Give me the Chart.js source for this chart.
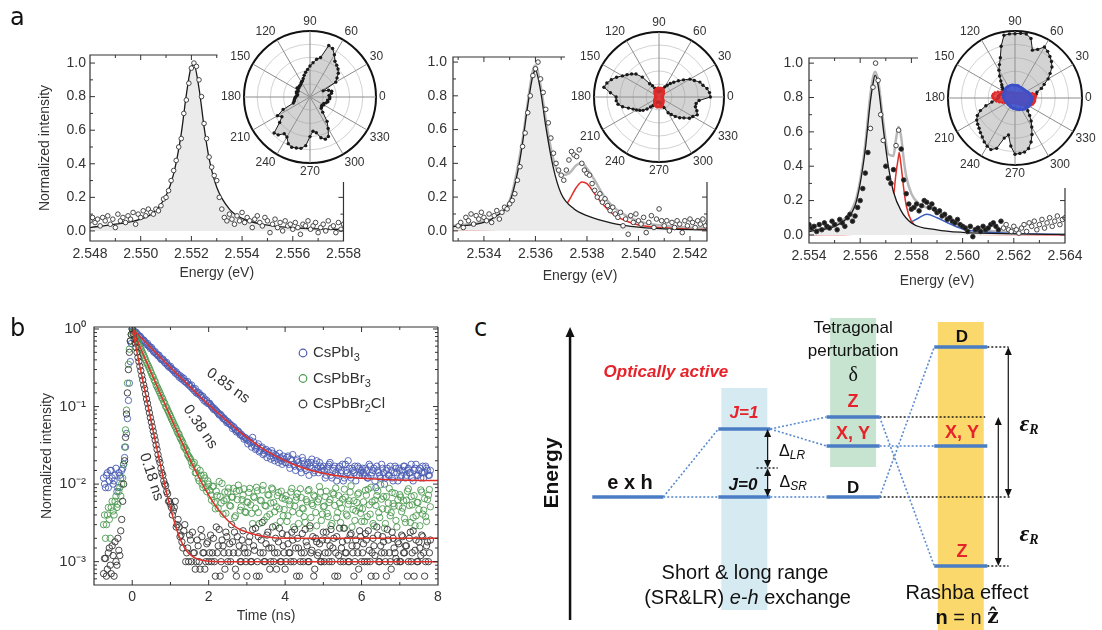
<!DOCTYPE html>
<html>
<head>
<meta charset="utf-8">
<title>Exciton fine structure</title>
<script src="https://cdn.jsdelivr.net/npm/chart.js@4.4.1/dist/chart.umd.min.js"></script>
<style>
  html, body { margin: 0; padding: 0; background: #fff; }
  #page { position: relative; width: 1102px; height: 630px; overflow: hidden; background: #fff; }
  #page canvas { position: absolute; }
  .tag { position: absolute; font: 24px "DejaVu Sans", sans-serif; line-height: 24px; color: #111; }
</style>
</head>
<body>
<div id="page">
  <canvas id="a1" width="366" height="275" style="left:0;top:20px"></canvas>
  <canvas id="a2" width="350" height="275" style="left:380px;top:20px"></canvas>
  <canvas id="a3" width="362" height="280" style="left:740px;top:20px"></canvas>
  <canvas id="p1" width="180" height="177" style="left:218px;top:5px"></canvas>
  <canvas id="p2" width="205" height="177" style="left:563px;top:5px"></canvas>
  <canvas id="p3" width="186" height="183" style="left:916px;top:5px"></canvas>
  <canvas id="b" width="460" height="320" style="left:0;top:310px"></canvas>
  <canvas id="c" width="562" height="330" style="left:540px;top:300px"></canvas>
  <div class="tag" style="left:10px;top:5px">a</div>
  <div class="tag" style="left:10px;top:316px">b</div>
  <div class="tag" style="left:474px;top:316px">c</div>
</div>
<script>
// ---------- panel a : PL spectra of three single nanocrystals ----------
const aStep = 0.0001; // spectrometer energy grid (eV)
const a1Start = 2.548;
const a1Counts = [
  0.06,0.08,0.05,0.07,0.03,0.08,0.06,0.09,0.04,0.07,
  0.02,0.10,0.06,0.08,0.05,0.09,0.07,0.11,0.04,0.10,
  0.08,0.12,0.09,0.13,0.11,0.10,0.13,0.12,0.15,0.19,
  0.20,0.24,0.30,0.36,0.42,0.50,0.55,0.70,0.78,0.88,
  0.97,1.00,0.98,0.90,0.80,0.64,0.55,0.44,0.38,0.33,
  0.30,0.20,0.13,0.08,0.06,0.10,0.07,0.04,0.09,0.06,
  0.11,0.05,0.08,0.06,0.02,0.07,0.09,0.05,0.03,0.08,
  0.06,-0.01,0.04,0.07,0.02,0.05,0.00,0.06,0.03,0.04,
  0.01,0.05,0.02,-0.02,0.04,0.03,0.06,0.01,0.03,0.05,
  -0.01,0.02,0.04,0.00,0.06,0.02,0.03,-0.01,0.05,0.01,
  0.04
];
const a1FitE = [2.548,2.549,2.550,2.5505,2.551,2.5513,2.5516,2.5518,2.552,2.5521,2.5523,2.5525,2.5527,2.553,2.5535,2.554,2.555,2.556,2.557,2.558];
const a1FitI = [0.02,0.04,0.07,0.11,0.21,0.34,0.58,0.81,0.98,0.99,0.85,0.62,0.43,0.26,0.13,0.075,0.034,0.019,0.012,0.009];

const a2Start = 2.5330;
const a2Counts = [
  0.03,0.05,0.02,0.08,0.06,0.10,0.04,0.09,0.07,0.11,
  0.08,0.06,0.10,0.05,0.09,0.12,0.07,0.11,0.14,0.13,
  0.16,0.18,0.22,0.30,0.38,0.50,0.58,0.70,0.80,0.92,
  0.96,1.00,0.90,0.82,0.72,0.64,0.55,0.46,0.40,0.36,
  0.33,0.30,0.36,0.42,0.47,0.45,0.44,0.48,0.40,0.36,
  0.34,0.33,0.28,0.24,0.20,0.22,0.17,0.19,0.15,0.12,
  0.14,0.10,0.08,0.11,0.03,0.07,-0.02,0.09,0.05,0.10,
  0.06,0.04,0.08,-0.01,0.05,0.09,0.02,0.07,0.13,0.06,
  0.03,0.06,0.00,0.05,0.02,0.06,0.04,-0.01,0.06,0.03,
  0.07,0.05,0.02,0.06,0.04,0.07,0.03,0.05
];
const a2MainE = [2.5328,2.534,2.5345,2.535,2.5353,2.5355,2.5357,2.5359,2.5360,2.5362,2.5364,2.5367,2.537,2.5375,2.538,2.539,2.540,2.541,2.5427];
const a2MainI = [0.025,0.05,0.09,0.17,0.34,0.52,0.74,0.92,0.95,0.83,0.62,0.37,0.22,0.13,0.09,0.045,0.022,0.012,0.006];
const a2SideE = [2.5328,2.534,2.535,2.5355,2.536,2.5365,2.537,2.5373,2.5376,2.5378,2.538,2.5383,2.5386,2.539,2.5395,2.540,2.541,2.542,2.5427];
const a2SideI = [0.005,0.007,0.012,0.018,0.028,0.05,0.11,0.18,0.26,0.29,0.28,0.22,0.16,0.10,0.06,0.035,0.018,0.01,0.008];
const a2SumE = [2.5328,2.534,2.535,2.5355,2.5357,2.5359,2.536,2.5362,2.5364,2.5367,2.537,2.5373,2.5376,2.5378,2.538,2.5383,2.5386,2.539,2.540,2.541,2.5427];
const a2SumI = [0.03,0.057,0.18,0.54,0.76,0.95,0.98,0.86,0.66,0.42,0.33,0.34,0.39,0.40,0.37,0.30,0.22,0.145,0.057,0.03,0.014];

const a3Start = 2.554;
const a3Counts = [
  0.06,0.04,0.05,0.02,0.06,0.03,0.07,0.05,0.04,0.08,
  0.06,0.03,0.09,0.07,0.05,0.10,0.12,0.08,0.11,0.16,
  0.20,0.27,0.36,0.48,0.62,0.86,1.00,0.90,0.70,0.55,
  0.40,0.33,0.30,0.38,0.52,0.61,0.50,0.32,0.24,0.18,
  0.15,0.16,0.18,0.14,0.17,0.20,0.19,0.16,0.18,0.15,
  0.13,0.14,0.11,0.12,0.09,0.10,0.08,0.07,0.09,0.06,
  0.05,0.04,0.02,0.05,-0.01,0.03,0.04,0.02,0.05,0.03,
  0.04,0.06,0.07,0.05,0.03,0.08,0.04,0.06,0.03,0.02,
  0.05,0.03,0.01,0.04,0.06,0.02,0.07,0.05,0.08,0.03,
  0.06,0.09,0.04,0.07,0.10,0.05,0.08,0.11,0.06,0.09,0.10
];
const a3MainE = [2.554,2.555,2.5555,2.5558,2.556,2.5562,2.5564,2.5565,2.55658,2.5567,2.5569,2.5571,2.5573,2.5576,2.558,2.559,2.560,2.562,2.564];
const a3MainI = [0.02,0.05,0.10,0.17,0.30,0.50,0.78,0.88,0.93,0.87,0.62,0.40,0.25,0.14,0.07,0.03,0.015,0.006,0.003];
const a3RedE = [2.554,2.556,2.5567,2.5570,2.5572,2.5573,2.5574,2.5575,2.55752,2.5576,2.5577,2.5578,2.5580,2.5583,2.559,2.560,2.562,2.564];
const a3RedI = [0.002,0.006,0.02,0.05,0.12,0.22,0.36,0.46,0.48,0.40,0.27,0.17,0.08,0.04,0.012,0.005,0.002,0.001];
const a3BlueE = [2.554,2.556,2.557,2.5578,2.5583,2.5586,2.559,2.5595,2.560,2.561,2.562,2.564];
const a3BlueI = [0.003,0.01,0.03,0.06,0.10,0.12,0.10,0.065,0.035,0.015,0.008,0.003];
const a3SumE = [2.554,2.555,2.5558,2.556,2.5562,2.5564,2.55658,2.5567,2.5569,2.5571,2.5573,2.5574,2.5575,2.5576,2.5577,2.5578,2.558,2.5583,2.5586,2.559,2.5595,2.560,2.561,2.562];
const a3SumI = [0.025,0.06,0.19,0.32,0.53,0.82,0.95,0.90,0.66,0.47,0.46,0.56,0.63,0.57,0.44,0.34,0.24,0.18,0.16,0.14,0.09,0.055,0.025,0.015];

// polarisation insets: normalised intensity vs analyser angle (deg)
const polarAngles = [0,5,10,15,20,25,30,35,40,45,50,55,60,65,70,75,80,85,
  90,95,100,105,110,115,120,125,130,135,140,145,150,155,160,165,170,175,
  180,185,190,195,200,205,210,215,220,225,230,235,240,245,250,255,260,265,
  270,275,280,285,290,295,300,305,310,315,320,325,330,335,340,345,350,355];
const p1Gray = [0.30,0.29,0.33,0.34,0.30,0.22,0.45,0.50,0.56,0.60,0.63,0.66,0.74,0.81,0.83,0.62,0.58,0.52,
  0.47,0.42,0.38,0.34,0.30,0.27,0.26,0.24,0.23,0.23,0.22,0.24,0.21,0.20,0.22,0.21,0.19,0.20,
  0.22,0.23,0.24,0.25,0.27,0.45,0.57,0.52,0.60,0.77,0.75,0.68,0.70,0.78,0.81,0.80,0.79,0.74,
  0.60,0.52,0.55,0.64,0.68,0.66,0.55,0.45,0.30,0.24,0.23,0.22,0.24,0.23,0.26,0.28,0.27,0.30];
const p2Gray = [0.79,0.78,0.75,0.70,0.67,0.60,0.55,0.46,0.39,0.32,0.27,0.22,0.18,0.14,0.12,0.10,0.09,0.08,
  0.08,0.08,0.09,0.10,0.12,0.15,0.20,0.25,0.40,0.50,0.55,0.60,0.65,0.72,0.78,0.83,0.86,0.75,
  0.66,0.66,0.64,0.58,0.50,0.44,0.40,0.36,0.32,0.26,0.20,0.16,0.13,0.11,0.09,0.08,0.08,0.08,
  0.08,0.08,0.09,0.10,0.13,0.18,0.28,0.33,0.39,0.45,0.50,0.57,0.60,0.65,0.62,0.58,0.58,0.62];
const p2Red = [0.05,0.05,0.05,0.06,0.06,0.07,0.07,0.08,0.09,0.10,0.11,0.12,0.13,0.13,0.14,0.14,0.14,0.13,
  0.13,0.14,0.14,0.13,0.13,0.12,0.12,0.11,0.10,0.09,0.08,0.07,0.07,0.06,0.06,0.05,0.05,0.05,
  0.05,0.05,0.05,0.06,0.06,0.07,0.07,0.08,0.09,0.10,0.11,0.12,0.13,0.14,0.15,0.15,0.16,0.15,
  0.15,0.15,0.16,0.15,0.14,0.13,0.12,0.11,0.10,0.09,0.08,0.07,0.07,0.06,0.06,0.05,0.05,0.05];
const p3Gray = [0.28,0.30,0.32,0.34,0.42,0.48,0.57,0.64,0.72,0.77,0.81,0.85,0.88,0.80,0.76,0.92,0.97,0.97,
  0.96,0.96,0.95,0.80,0.64,0.55,0.48,0.40,0.33,0.28,0.25,0.22,0.20,0.20,0.21,0.22,0.24,0.25,
  0.25,0.28,0.35,0.45,0.55,0.62,0.66,0.68,0.70,0.73,0.76,0.80,0.83,0.85,0.80,0.62,0.56,0.72,
  0.84,0.83,0.82,0.78,0.70,0.60,0.50,0.42,0.34,0.27,0.22,0.20,0.20,0.21,0.22,0.24,0.25,0.26];
const p3Red = [0.30,0.31,0.30,0.27,0.22,0.18,0.15,0.13,0.11,0.10,0.09,0.08,0.08,0.08,0.07,0.07,0.07,0.07,
  0.07,0.07,0.07,0.08,0.08,0.08,0.09,0.10,0.11,0.12,0.14,0.16,0.18,0.22,0.27,0.31,0.33,0.34,
  0.33,0.31,0.28,0.24,0.20,0.17,0.14,0.12,0.11,0.10,0.09,0.08,0.08,0.08,0.07,0.07,0.07,0.07,
  0.07,0.07,0.08,0.08,0.08,0.09,0.10,0.11,0.12,0.14,0.16,0.19,0.23,0.26,0.28,0.29,0.30,0.30];
const p3Blue = [0.25,0.25,0.24,0.23,0.22,0.21,0.20,0.19,0.19,0.18,0.18,0.18,0.18,0.18,0.18,0.19,0.19,0.19,
  0.19,0.19,0.20,0.20,0.20,0.20,0.20,0.20,0.20,0.20,0.19,0.19,0.19,0.18,0.18,0.18,0.17,0.17,
  0.17,0.16,0.16,0.15,0.15,0.14,0.14,0.14,0.14,0.14,0.14,0.14,0.14,0.15,0.15,0.15,0.16,0.16,
  0.16,0.17,0.17,0.18,0.19,0.19,0.20,0.21,0.22,0.22,0.23,0.24,0.24,0.25,0.25,0.25,0.25,0.25];

// ---------- panel b : PL decay traces ----------
// two interleaved read-outs: bins at -0.75 + k*0.05 and at -0.725 + k*0.05 (ns)
const bStart = -0.75, bStartMid = -0.725, bStep = 0.05;
const bCsPbI3 = [
  0.012,0.009,0.014,0.011,0.015,0.010,0.013,0.008,0.014,0.012,0.016,0.022,0.045,0.12,0.38,1.0,
  0.93,0.91,0.84,0.81,0.74,0.72,0.66,0.65,0.59,0.58,0.52,0.51,0.47,0.46,0.41,0.41,0.37,0.37,0.33,0.33,
  0.30,0.29,0.28,0.26,0.25,0.24,0.23,0.21,0.21,0.19,0.19,0.17,0.17,0.155,0.15,0.14,0.135,0.125,0.12,0.11,
  0.105,0.098,0.094,0.088,0.082,0.080,0.074,0.071,0.066,0.064,0.060,0.057,0.055,0.050,0.049,0.046,0.044,0.041,0.040,0.037,
  0.036,0.034,0.040,0.031,0.029,0.033,0.027,0.030,0.025,0.028,0.026,0.023,0.027,0.022,0.024,0.021,0.025,0.020,0.023,0.019,
  0.022,0.018,0.021,0.024,0.017,0.020,0.019,0.016,0.022,0.018,0.015,0.019,0.017,0.021,0.014,0.018,0.016,0.019,0.015,0.017,
  0.012,0.016,0.018,0.013,0.015,0.017,0.011,0.016,0.014,0.018,0.012,0.015,0.020,0.013,0.016,0.014,0.011,0.017,0.013,0.015,
  0.014,0.016,0.012,0.018,0.013,0.015,0.011,0.017,0.014,0.012,0.016,0.010,0.015,0.013,0.017,0.012,0.014,0.016,0.011,0.015,
  0.013,0.017,0.012,0.015,0.014,0.018,0.011,0.016,0.013,0.015,0.012,0.017,0.014,0.016,0.013,0.015
];
const bCsPbI3Mid = [
  0.010,0.013,0.009,0.015,0.012,0.011,0.016,0.009,0.013,0.015,0.018,0.03,0.07,0.2,0.65,
  0.96,0.90,0.87,0.80,0.78,0.71,0.69,0.63,0.61,0.56,0.55,0.50,0.48,0.45,0.43,0.40,0.39,0.36,0.34,0.32,
  0.31,0.29,0.27,0.26,0.24,0.23,0.22,0.21,0.20,0.19,0.18,0.17,0.16,0.15,0.145,0.14,0.13,0.12,0.115,0.11,
  0.11,0.10,0.092,0.090,0.085,0.078,0.077,0.070,0.068,0.062,0.061,0.058,0.052,0.053,0.047,0.048,0.043,0.042,0.038,0.039,
  0.033,0.037,0.030,0.035,0.028,0.031,0.026,0.029,0.024,0.027,0.022,0.026,0.021,0.025,0.020,0.023,0.019,0.022,0.018,0.021,
  0.019,0.023,0.016,0.020,0.018,0.015,0.021,0.017,0.014,0.020,0.016,0.018,0.013,0.019,0.016,0.015,0.020,0.014,0.017,0.016,
  0.015,0.013,0.017,0.019,0.012,0.016,0.014,0.013,0.017,0.015,0.011,0.018,0.014,0.016,0.012,0.015,0.017,0.013,0.016,0.014,
  0.016,0.013,0.015,0.012,0.017,0.014,0.016,0.009,0.015,0.013,0.018,0.014,0.012,0.016,0.013,0.015,0.011,0.017,0.014,0.016,
  0.012,0.015,0.017,0.013,0.016,0.014,0.012,0.015,0.018,0.013,0.016,0.014,0.012,0.017,0.015,0.013
];
const bCsPbBr3 = [
  0.003,0.002,0.004,0.0035,0.005,0.0045,0.006,0.005,0.008,0.007,0.012,0.03,0.09,0.35,0.7,1.0,
  0.86,0.76,0.68,0.58,0.52,0.46,0.40,0.35,0.31,0.27,0.24,0.21,0.18,0.16,0.14,0.125,0.11,0.097,0.085,0.075,
  0.066,0.058,0.052,0.045,0.040,0.036,0.030,0.028,0.024,0.022,0.019,0.018,0.014,0.016,0.011,0.013,0.009,0.012,0.008,0.010,
  0.0072,0.0093,0.0058,0.0081,0.0049,0.0069,0.0102,0.0061,0.0042,0.0079,0.0053,0.0068,0.0088,0.0039,0.0063,0.0083,0.0051,0.0072,0.0044,0.0059,
  0.0078,0.0054,0.0031,0.0067,0.0091,0.0043,0.0062,0.0084,0.0034,0.0052,0.0073,0.0041,0.0089,0.0058,0.0029,0.0071,0.0048,0.0081,0.0039,0.0064,
  0.0033,0.0061,0.0079,0.0044,0.0052,0.0068,0.0031,0.0087,0.0049,0.0038,0.0063,0.0082,0.0027,0.0056,0.0072,0.0043,0.0059,0.0093,0.0034,0.0051,
  0.0069,0.0042,0.0058,0.0029,0.0077,0.0053,0.0037,0.0071,0.0032,0.0064,0.0086,0.0041,0.0055,0.0079,0.0028,0.0061,0.0045,0.0074,0.0049,0.0033,
  0.0059,0.0083,0.0038,0.0054,0.0091,0.0031,0.0062,0.0071,0.0043,0.0098,0.0048,0.0027,0.0069,0.0057,0.0039,0.0078,0.0052,0.0034,0.0063,0.0073,
  0.0044,0.0061,0.0032,0.0081,0.0053,0.0069,0.0037,0.0029,0.0058,0.0047,0.0084,0.0041,0.0065,0.0033,0.0072,0.0051
];
const bCsPbBr3Mid = [
  0.004,0.003,0.005,0.002,0.006,0.004,0.007,0.0055,0.009,0.010,0.018,0.05,0.2,0.55,0.85,
  0.93,0.82,0.71,0.63,0.55,0.49,0.43,0.37,0.33,0.29,0.25,0.22,0.19,0.17,0.15,0.13,0.115,0.10,0.09,0.08,
  0.07,0.062,0.055,0.048,0.044,0.038,0.034,0.030,0.027,0.023,0.021,0.017,0.019,0.014,0.012,0.015,0.010,0.013,0.009,0.011,
  0.0083,0.0062,0.0094,0.0048,0.0071,0.0108,0.0057,0.0041,0.0079,0.0064,0.0089,0.0052,0.0068,0.0037,0.0081,0.0097,0.0046,0.0063,0.0087,0.0043,
  0.0058,0.0088,0.0042,0.0069,0.0049,0.0082,0.0031,0.0061,0.0096,0.0053,0.0038,0.0072,0.0057,0.0086,0.0044,0.0051,0.0078,0.0033,0.0066,0.0047,
  0.0071,0.0039,0.0054,0.0088,0.0028,0.0062,0.0076,0.0042,0.0067,0.0048,0.0032,0.0059,0.0085,0.0037,0.0053,0.0069,0.0029,0.0064,0.0079,0.0041,
  0.0052,0.0081,0.0038,0.0063,0.0031,0.0074,0.0089,0.0043,0.0057,0.0049,0.0027,0.0068,0.0039,0.0061,0.0095,0.0047,0.0034,0.0058,0.0077,0.0042,
  0.0048,0.0033,0.0072,0.0086,0.0041,0.0059,0.0029,0.0053,0.0081,0.0037,0.0064,0.0069,0.0031,0.0047,0.0088,0.0043,0.0056,0.0076,0.0028,0.0052,
  0.0068,0.0049,0.0036,0.0062,0.0087,0.0032,0.0054,0.0071,0.0039,0.0058,0.0029,0.0079,0.0046,0.0038,0.0063,0.0085
];
const bCsPbBr2Cl = [
  0.0007,0.0011,0.0008,0.0015,0.0007,0.0012,0.0018,0.0009,0.0014,0.0025,0.006,0.02,0.08,0.3,0.7,1.0,
  0.74,0.58,0.43,0.33,0.25,0.19,0.145,0.11,0.083,0.063,0.048,0.037,0.028,0.021,0.016,0.013,0.010,0.008,0.006,0.0055,
  0.004,0.005,0.0028,0.0035,0.0021,0.0018,0.0025,0.0010,0.0015,0.0022,0.0010,0.0013,0.0008,0.0019,0.0010,0.0026,0.0013,0.0008,0.0017,0.0010,
  0.0022,0.0013,0.0010,0.0028,0.0016,0.00065,0.0019,0.0013,0.0024,0.0010,0.0017,0.0030,0.0013,0.0008,0.0021,0.0016,0.0010,0.0025,0.0013,0.00065,
  0.0018,0.0010,0.0026,0.0014,0.00065,0.0021,0.0013,0.0032,0.0010,0.0017,0.0024,0.0008,0.0015,0.0010,0.0020,0.0013,0.0027,0.0010,0.0016,0.0008,
  0.0022,0.0013,0.0010,0.0019,0.0026,0.00065,0.0015,0.0010,0.0023,0.0013,0.0018,0.0010,0.0029,0.0014,0.00065,0.0020,0.0012,0.0017,0.0010,0.0024,
  0.0013,0.0019,0.0010,0.0026,0.0015,0.00065,0.0021,0.0012,0.0010,0.0018,0.0027,0.0013,0.0010,0.0022,0.0016,0.00065,0.0019,0.0013,0.0025,0.0010,
  0.0017,0.0023,0.0010,0.0014,0.00065,0.0020,0.0012,0.0028,0.0010,0.0016,0.0021,0.0013,0.00065,0.0019,0.0010,0.0024,0.0015,0.0011,0.0018,0.0010,
  0.0022,0.0013,0.0016,0.00065,0.0020,0.0010,0.0025,0.0014,0.0010,0.0018,0.0012,0.0021,0.00065,0.0016,0.0010,0.0019
];
const bCsPbBr2ClMid = [
  0.0011,0.00065,0.0013,0.0009,0.0016,0.00065,0.0010,0.0020,0.0012,0.0035,0.01,0.04,0.15,0.5,0.85,
  0.86,0.66,0.50,0.38,0.29,0.22,0.17,0.125,0.095,0.072,0.055,0.042,0.032,0.024,0.019,0.014,0.011,0.0095,0.0075,0.006,
  0.005,0.0045,0.006,0.003,0.0028,0.0022,0.0015,0.0030,0.0013,0.0010,0.0019,0.0024,0.0013,0.0010,0.0016,0.0008,0.0021,0.0013,0.0010,0.0018,
  0.0013,0.0010,0.0020,0.00065,0.0013,0.0026,0.0010,0.0016,0.0008,0.0021,0.0013,0.0010,0.0018,0.0024,0.00065,0.0013,0.0010,0.0019,0.0015,0.0010,
  0.0013,0.0021,0.0010,0.0016,0.0027,0.0010,0.00065,0.0019,0.0013,0.0010,0.0022,0.0015,0.0010,0.0028,0.0013,0.0008,0.0018,0.0010,0.0023,0.0013,
  0.0010,0.0017,0.0013,0.0024,0.0010,0.0015,0.0020,0.00065,0.0013,0.0010,0.0026,0.0016,0.0010,0.0013,0.0021,0.0008,0.0018,0.0013,0.0010,0.0019,
  0.0010,0.0024,0.0013,0.0016,0.0010,0.0020,0.0013,0.00065,0.0027,0.0015,0.0010,0.0013,0.0019,0.0010,0.0023,0.0013,0.0010,0.0016,0.0008,0.0021,
  0.0013,0.0010,0.0019,0.0025,0.0010,0.0013,0.0016,0.00065,0.0022,0.0010,0.0013,0.0018,0.0010,0.0026,0.0013,0.0008,0.0020,0.0013,0.0010,0.0017,
  0.0010,0.0021,0.0013,0.0016,0.0010,0.0024,0.0013,0.00065,0.0019,0.0010,0.0015,0.0022,0.0013,0.0010,0.0018,0.0013
];
const fitT = [0,0.1,0.2,0.3,0.4,0.5,0.6,0.7,0.8,0.9,1.0,1.2,1.4,1.6,1.8,2.0,2.25,2.5,2.75,3,3.5,4,4.5,5,5.5,6,7,8];
const fitCsPbI3 = [1.011,0.900,0.801,0.714,0.636,0.566,0.505,0.450,0.401,0.358,0.319,0.255,0.204,0.163,0.131,0.106,0.082,0.064,0.050,0.040,0.027,0.020,0.016,0.0138,0.0125,0.0119,0.0113,0.0111];
const fitCsPbBr3 = [1.0,0.771,0.593,0.456,0.351,0.270,0.208,0.160,0.124,0.096,0.074,0.0445,0.0272,0.0168,0.0108,0.0072,0.0047,0.0034,0.0027,0.0024,0.0021,0.0020,0.0020,0.0020,0.0020,0.0020,0.0020,0.0020];
const fitCsPbBr2Cl = [1.0,0.575,0.330,0.190,0.109,0.0632,0.0367,0.0215,0.0127,0.0077,0.0049,0.0023,0.00142,0.00114,0.00105,0.00101,0.001,0.001,0.001,0.001,0.001,0.001,0.001,0.001,0.001,0.001,0.001,0.001];
const bNotes = [
  {t: '0.85 ns', x: 2.51, y: 0.185, rot: 36},
  {t: '0.38 ns', x: 1.78, y: 0.0546, rot: 56},
  {t: '0.18 ns', x: 0.50, y: 0.0124, rot: 72}
];

// ---------- panel c : level scheme (energies in arbitrary units) ----------
const colX = [-0.02, 1.03, 2.01, 2.98]; // e x h | exchange | tetragonal | Rashba
const levelName = ['exh', 'J0', 'J1', 'Zt', 'XYt', 'Dt', 'DR', 'XYR', 'ZR'];
const levelCol = [0, 1, 1, 2, 2, 2, 3, 3, 3];
const levelE = [0, 0, 6.8, 8.0, 5.1, 0, 15.0, 5.1, -6.9];
const links = [['exh','J1'], ['exh','J0'], ['J1','Zt'], ['J1','XYt'], ['J0','Dt'], ['Zt','ZR'], ['Dt','DR'], ['XYt','XYR']];
const guides = [['Zt', 3.20], ['Dt', 3.42], ['DR', 3.41], ['ZR', 3.41]];
const midGuide = {from: 1.14, to: 1.33, e: 2.9};
const bandCol = [1, 2, 3];
const bandTop = [10.9, 17.9, 17.5];
const bandBottom = [-11.3, 3.0, -13.3];
const arrowX = [1.24, 1.24, 3.408, 3.318];
const arrowFrom = [6.8, 2.9, 15.0, 8.0];
const arrowTo = [2.9, 0, 0, -6.9];
const energyAxis = {x: -0.54, from: -12.3, to: 17.0};

// ---------- helpers ----------
const FONT = '"Liberation Sans", Arial, Helvetica, sans-serif';
const SERIF = '"Liberation Serif", "DejaVu Serif", serif';
Chart.defaults.font.family = FONT;
Chart.defaults.color = '#333';

const onGrid = (start, step, vals) => vals.map((v, i) => ({x: +(start + i * step).toFixed(5), y: v}));
const xy = (xs, ys) => xs.map((x, i) => ({x: x, y: ys[i]}));
const base = {responsive: false, animation: false, devicePixelRatio: 1, events: []};
const quiet = {legend: {display: false}, tooltip: {enabled: false}};
const noGrid = {display: false, drawTicks: false};

const R = (t, f, c, dy) => ({t: t, f: f + ' ' + FONT, c: c, dy: dy});
const RS = (t, f, c, dy) => ({t: t, f: f + ' ' + SERIF, c: c, dy: dy});
function drawRuns(ctx, runs, x, y, align) {
  let w = 0;
  runs.forEach(r => { ctx.font = r.f; w += ctx.measureText(r.t).width; });
  let px = align === 'left' ? x : x - w / 2;
  ctx.textAlign = 'left';
  ctx.textBaseline = 'middle';
  runs.forEach(r => {
    ctx.font = r.f;
    ctx.fillStyle = r.c || '#111';
    ctx.fillText(r.t, px, y + (r.dy || 0));
    px += ctx.measureText(r.t).width;
  });
}

// box frame with inward ticks; the inset polar plot interrupts top/right edges
const frame = {
  id: 'frame',
  afterDatasetsDraw(chart, args, opts) {
    const {ctx, chartArea: a} = chart;
    const xs = chart.scales.x, ys = chart.scales.y;
    const topEnd = a.right - (opts.cutTop || 0);
    const rightStart = a.top + (opts.cutRight || 0);
    ctx.save();
    ctx.strokeStyle = '#333';
    ctx.lineWidth = 1.2;
    ctx.beginPath();
    ctx.moveTo(topEnd, a.top);
    ctx.lineTo(a.left, a.top);
    ctx.lineTo(a.left, a.bottom);
    ctx.lineTo(a.right, a.bottom);
    ctx.lineTo(a.right, rightStart);
    ctx.stroke();
    ctx.lineWidth = 1;
    ctx.beginPath();
    xs.ticks.forEach(t => {
      const px = xs.getPixelForValue(t.value);
      if (px < a.left + 1 || px > a.right - 1) return;
      const len = t.label !== '' ? 5 : 3;
      ctx.moveTo(px, a.bottom); ctx.lineTo(px, a.bottom - len);
      if (px <= topEnd) { ctx.moveTo(px, a.top); ctx.lineTo(px, a.top + len); }
    });
    ys.ticks.forEach(t => {
      const py = ys.getPixelForValue(t.value);
      if (py < a.top + 1 || py > a.bottom - 1) return;
      const len = t.label !== '' ? 5 : 3;
      ctx.moveTo(a.left, py); ctx.lineTo(a.left + len, py);
      if (py >= rightStart) { ctx.moveTo(a.right, py); ctx.lineTo(a.right - len, py); }
    });
    ctx.stroke();
    ctx.restore();
  }
};

function spectrumScales(o) {
  return {
    x: {type: 'linear', min: o.xmin, max: o.xmax, grid: noGrid, border: {display: false},
        ticks: {stepSize: 0.001, includeBounds: false, autoSkip: false, maxRotation: 0, maxTicksLimit: 40, padding: 5,
                color: '#333', font: {size: 14},
                callback: v => { const k = Math.round(v * 1000); return k % 2 ? '' : (k / 1000).toFixed(3); }},
        title: {display: true, text: 'Energy (eV)', color: '#333', font: {size: 14}},
        afterFit: s => { s.height = o.xh; }},
    y: {type: 'linear', min: o.ymin, max: o.ymax, grid: noGrid, border: {display: false},
        ticks: {stepSize: 0.1, includeBounds: false, autoSkip: false, maxTicksLimit: 40, padding: o.ypad,
                color: '#333', font: {size: 14},
                callback: v => { const k = Math.round(v * 10); return k % 2 ? '' : (k / 10).toFixed(1); }},
        title: {display: !!o.ytitle, text: 'Normalized intensity', color: '#333', font: {size: 14}},
        afterFit: s => { s.width = o.yw; }}
  };
}
const curve = (data, color, width, extra) => Object.assign({data: data, showLine: true, borderColor: color, borderWidth: width,
  pointRadius: 0, cubicInterpolationMode: 'monotone', fill: false}, extra || {});
const dots = (data, extra) => Object.assign({data: data, showLine: false, pointRadius: 2.3, pointBorderWidth: 0.9,
  pointBorderColor: '#333', pointBackgroundColor: '#fff'}, extra || {});
const SHADE = '#ebebeb';
const FIT_RED = '#e0302a';
const FIT_BLUE = '#3d5fc0';
const SUM_GRAY = '#b8b8b8';

new Chart(document.getElementById('a1'), {
  type: 'scatter',
  data: {datasets: [
    dots(onGrid(a1Start, aStep, a1Counts)),
    curve(xy(a1FitE, a1FitI), '#1a1a1a', 1.3, {fill: 'origin', backgroundColor: SHADE})
  ]},
  options: Object.assign({}, base, {
    layout: {padding: {left: 33, top: 35, right: 20, bottom: 9}},
    plugins: Object.assign({}, quiet, {frame: {cutTop: 126, cutRight: 127}}),
    scales: spectrumScales({xmin: 2.548, xmax: 2.558, ymin: -0.06, ymax: 1.048, xh: 45, yw: 57, ypad: 4, ytitle: true})
  }),
  plugins: [frame]
});

new Chart(document.getElementById('a2'), {
  type: 'scatter',
  data: {datasets: [
    dots(onGrid(a2Start, aStep, a2Counts)),
    curve(xy(a2MainE, a2MainI), '#1a1a1a', 1.3, {fill: 'origin', backgroundColor: SHADE}),
    curve(xy(a2SideE, a2SideI), FIT_RED, 1.5),
    curve(xy(a2SumE, a2SumI), SUM_GRAY, 2.5)
  ]},
  options: Object.assign({}, base, {
    layout: {padding: {left: 20, top: 37, right: 23, bottom: 6}},
    plugins: Object.assign({}, quiet, {frame: {cutTop: 142, cutRight: 125}}),
    scales: spectrumScales({xmin: 2.5328, xmax: 2.54266, ymin: -0.06, ymax: 1.03, xh: 48, yw: 53, ypad: 6, ytitle: false})
  }),
  plugins: [frame]
});

new Chart(document.getElementById('a3'), {
  type: 'scatter',
  data: {datasets: [
    dots(onGrid(a3Start, aStep, a3Counts), {
      pointBackgroundColor: c => (c.raw && (c.raw.x > 2.5615 || c.raw.y > 0.5)) ? '#fff' : '#1a1a1a'
    }),
    curve(xy(a3MainE, a3MainI), '#1a1a1a', 1.3, {fill: 'origin', backgroundColor: SHADE}),
    curve(xy(a3RedE, a3RedI), FIT_RED, 1.5),
    curve(xy(a3BlueE, a3BlueI), FIT_BLUE, 1.5),
    curve(xy(a3SumE, a3SumI), SUM_GRAY, 2.5)
  ]},
  options: Object.assign({}, base, {
    layout: {padding: {left: 20, top: 38, right: 37, bottom: 6}},
    plugins: Object.assign({}, quiet, {frame: {cutTop: 147, cutRight: 130}}),
    scales: spectrumScales({xmin: 2.554, xmax: 2.564, ymin: -0.047, ymax: 1.03, xh: 51, yw: 49, ypad: 6, ytitle: false})
  }),
  plugins: [frame]
});

// ---------- polar insets (radar charts, clockwise from 90 deg) ----------
const radarAngles = polarAngles.map((_, k) => polarAngles[(18 - k + 72) % 72]);
const toRadar = r => radarAngles.map(a => r[polarAngles.indexOf(a)]);
const polarLabels = {
  id: 'polarLabels',
  afterDraw(chart) {
    const s = chart.scales.r, ctx = chart.ctx;
    ctx.save();
    ctx.font = '12px ' + FONT;
    ctx.fillStyle = '#333';
    chart.data.labels.forEach((ang, i) => {
      if (ang % 30) return;
      const p = s.getPointPosition(i, s.drawingArea + 3);
      const dx = p.x - s.xCenter, dy = p.y - s.yCenter;
      ctx.textAlign = Math.abs(dx) < 5 ? 'center' : (dx > 0 ? 'left' : 'right');
      ctx.textBaseline = Math.abs(dy) < 5 ? 'middle' : (dy > 0 ? 'top' : 'bottom');
      ctx.fillText(String(ang), p.x, p.y);
    });
    ctx.restore();
  }
};
function polar(id, pad, sets) {
  return new Chart(document.getElementById(id), {
    type: 'radar',
    data: {labels: radarAngles, datasets: sets.map(s => ({
      data: toRadar(s.r), borderColor: s.line, backgroundColor: s.fill, borderWidth: 1, fill: true,
      pointRadius: s.pr, pointBackgroundColor: s.line, pointBorderWidth: 0
    }))},
    options: Object.assign({}, base, {
      layout: {padding: pad},
      plugins: quiet,
      elements: {line: {tension: 0}},
      scales: {r: {min: 0, max: 1, startAngle: 0,
        ticks: {display: false, stepSize: 0.2},
        pointLabels: {display: false},
        grid: {circular: true,
               color: c => (c.tick && c.tick.value > 0.99) ? '#111' : '#c6c6c6',
               lineWidth: c => (c.tick && c.tick.value > 0.99) ? 2 : 0.8},
        angleLines: {color: c => Number(c.label) % 30 === 0 ? '#8c8c8c' : 'rgba(0,0,0,0)', lineWidth: 1}
      }}
    }),
    plugins: [polarLabels]
  });
}
const GRAY_SET = {line: '#1a1a1a', fill: 'rgba(150,150,150,0.42)', pr: 1.7};
polar('p1', {left: 26, right: 22, top: 26, bottom: 19}, [Object.assign({r: p1Gray}, GRAY_SET)]);
polar('p2', {left: 31, right: 44, top: 27, bottom: 20}, [
  {r: p2Red, line: '#e02b2b', fill: 'rgba(226,45,45,0.85)', pr: 1.4},
  Object.assign({r: p2Gray}, GRAY_SET)
]);
polar('p3', {left: 32, right: 20, top: 26, bottom: 23}, [
  {r: p3Blue, line: '#3c50c8', fill: 'rgba(62,82,205,0.9)', pr: 1.4},
  {r: p3Red, line: '#e02b2b', fill: 'rgba(226,45,45,0.85)', pr: 1.4},
  Object.assign({r: p3Gray}, GRAY_SET)
]);

// ---------- panel b ----------
const BLUE = '#4b5cb3', GREEN = '#4c9a4f', DARK = '#333333';
const sup = n => String(n).split('').map(ch => ({'-': '\u207B', '0': '\u2070', '1': '\u00B9', '2': '\u00B2', '3': '\u00B3'})[ch]).join('');
const subRuns = label => label.split(/(\d)/).filter(Boolean).map(p => /\d/.test(p) ? R(p, '11px', '#333', 5) : R(p, '15px', '#333'));
const openDots = (label, vals, mid, color) => ({label: label,
  data: onGrid(bStart, bStep, vals).concat(onGrid(bStartMid, bStep, mid)), showLine: false,
  pointRadius: 3.2, pointBorderWidth: 0.9, borderColor: color, pointBorderColor: color, backgroundColor: 'rgba(0,0,0,0)',
  pointBackgroundColor: 'rgba(0,0,0,0)'});
const bDecor = {
  id: 'bDecor',
  afterDatasetsDraw(chart) {
    const {ctx, chartArea: a, scales: {x, y}} = chart;
    ctx.save();
    ctx.fillStyle = '#333';
    ctx.font = '15px ' + FONT;
    ctx.textAlign = 'center';
    ctx.textBaseline = 'middle';
    bNotes.forEach(n => {
      ctx.save();
      ctx.translate(x.getPixelForValue(n.x), y.getPixelForValue(n.y));
      ctx.rotate(n.rot * Math.PI / 180);
      ctx.fillText(n.t, 0, 0);
      ctx.restore();
    });
    [5, 4, 3].forEach((di, i) => {
      const ds = chart.data.datasets[di];
      const lx = a.right - 135, ly = a.top + 26 + i * 25.5;
      ctx.beginPath();
      ctx.arc(lx, ly, 3.8, 0, 2 * Math.PI);
      ctx.strokeStyle = ds.borderColor;
      ctx.lineWidth = 1.2;
      ctx.stroke();
      drawRuns(ctx, subRuns(ds.label), lx + 10, ly, 'left');
    });
    ctx.restore();
  }
};
new Chart(document.getElementById('b'), {
  type: 'scatter',
  data: {datasets: [
    curve(xy(fitT, fitCsPbI3), FIT_RED, 1.5),
    curve(xy(fitT, fitCsPbBr3), FIT_RED, 1.5),
    curve(xy(fitT, fitCsPbBr2Cl), FIT_RED, 1.5),
    openDots('CsPbBr2Cl', bCsPbBr2Cl, bCsPbBr2ClMid, DARK),
    openDots('CsPbBr3', bCsPbBr3, bCsPbBr3Mid, GREEN),
    openDots('CsPbI3', bCsPbI3, bCsPbI3Mid, BLUE)
  ]},
  options: Object.assign({}, base, {
    layout: {padding: {left: 35, top: 17, right: 22, bottom: 1}},
    plugins: Object.assign({}, quiet, {frame: {}}),
    scales: {
      x: {type: 'linear', min: -1, max: 8, grid: noGrid, border: {display: false},
          ticks: {stepSize: 1, autoSkip: false, maxRotation: 0, padding: 4, color: '#333', font: {size: 14},
                  callback: v => (v >= 0 && v % 2 === 0) ? String(v) : ''},
          title: {display: true, text: 'Time (ns)', color: '#333', font: {size: 14}},
          afterFit: s => { s.height = 44; }},
      y: {type: 'logarithmic', min: 5e-4, max: 1.061, grid: noGrid, border: {display: false},
          ticks: {autoSkip: false, padding: 8, color: '#333', font: {size: 15},
                  callback: v => { const e = Math.log10(v), r = Math.round(e); return Math.abs(e - r) < 1e-6 ? '10' + sup(r) : ''; }},
          title: {display: true, text: 'Normalized intensity', color: '#333', font: {size: 14}},
          afterFit: s => { s.width = 59; }}
    }
  }),
  plugins: [frame, bDecor]
});

// ---------- panel c ----------
const LEVEL_HALF = [0.32, 0.234, 0.239, 0.239];
const BAND_HALF = 0.207;
const BAND_COLORS = ['#d6eaf2', '#c6e4cf', '#fbd86c'];
const LEVEL_BLUE = '#4a7dc4';
const RED = '#e6232a';
const lv = name => levelName.indexOf(name);
const lvLeft = i => colX[levelCol[i]] - LEVEL_HALF[levelCol[i]];
const lvRight = i => colX[levelCol[i]] + LEVEL_HALF[levelCol[i]];
const seg = (x1, y1, x2, y2, color, width, dash) => ({data: [{x: x1, y: y1}, {x: x2, y: y2}], showLine: true,
  borderColor: color, borderWidth: width, borderDash: dash || [], pointRadius: 0, borderCapStyle: 'butt'});

const levelSets = levelE.map((e, i) => seg(lvLeft(i), e, lvRight(i), e, LEVEL_BLUE, 3.5));
const linkSets = links.map(([a, b]) => seg(lvRight(lv(a)), levelE[lv(a)], lvLeft(lv(b)), levelE[lv(b)], '#5a8ad0', 1.6, [2, 2]));
const guideSets = guides.map(([a, to]) => seg(lvRight(lv(a)), levelE[lv(a)], to, levelE[lv(a)], '#111', 1.4, [2, 2]))
  .concat([seg(midGuide.from, midGuide.e, midGuide.to, midGuide.e, '#111', 1.4, [2, 2])]);

const cNotes = [
  {x: 0.324, y: 12.5, runs: [R('Optically active', 'italic bold 17px', RED)]},
  {x: 1.027, y: 8.4, runs: [R('J=1', 'italic bold 17px', RED)]},
  {x: 1.018, y: 1.2, runs: [R('J=0', 'italic bold 17px', '#111')]},
  {x: 0.0, y: 1.4, runs: [R('e x h', 'bold 20px', '#111')]},
  {x: 1.46, y: 4.5, runs: [R('\u0394', '16px', '#111'), R('LR', 'italic 12px', '#111', 4)]},
  {x: 1.47, y: 1.4, runs: [R('\u0394', '16px', '#111'), R('SR', 'italic 12px', '#111', 4)]},
  {x: 2.01, y: 16.9, runs: [R('Tetragonal', '17px', '#111')]},
  {x: 2.01, y: 14.6, runs: [R('perturbation', '17px', '#111')]},
  {x: 2.01, y: 12.1, runs: [RS('\u03B4', '20px', '#111')]},
  {x: 2.01, y: 9.5, runs: [R('Z', 'bold 18px', RED)]},
  {x: 2.01, y: 6.3, runs: [R('X, Y', 'bold 18px', RED)]},
  {x: 2.01, y: 0.9, runs: [R('D', 'bold 17px', '#111')]},
  {x: 2.99, y: 16.0, runs: [R('D', 'bold 17px', '#111')]},
  {x: 2.99, y: 6.4, runs: [R('X, Y', 'bold 18px', RED)]},
  {x: 2.99, y: -5.5, runs: [R('Z', 'bold 18px', RED)]},
  {x: 3.595, y: 7.2, runs: [RS('\u03B5', 'italic bold 24px', '#111'), RS('R', 'italic bold 14px', '#111', 5)]},
  {x: 3.595, y: -3.8, runs: [RS('\u03B5', 'italic bold 24px', '#111'), RS('R', 'italic bold 14px', '#111', 5)]},
  {x: 1.036, y: -7.6, runs: [R('Short & long range', '20px', '#111')]},
  {x: 1.059, y: -10.1, runs: [R('(SR&LR) ', '20px', '#111'), R('e-h', 'italic 20px', '#111'), R(' exchange', '20px', '#111')]},
  {x: 3.036, y: -9.6, runs: [R('Rashba effect', '20px', '#111')]},
  {x: 3.036, y: -12.1, runs: [R('n', 'bold 20px', '#111'), R(' = n ', '20px', '#111'), {t: '\u1E91', f: 'bold 20px "DejaVu Serif", serif', c: '#111'}]}
];

const bands = {
  id: 'bands',
  beforeDatasetsDraw(chart) {
    const {ctx, scales: {x, y}} = chart;
    ctx.save();
    bandCol.forEach((c, i) => {
      const xl = x.getPixelForValue(colX[c] - BAND_HALF), xr = x.getPixelForValue(colX[c] + BAND_HALF);
      const yt = y.getPixelForValue(bandTop[i]), yb = y.getPixelForValue(bandBottom[i]);
      ctx.fillStyle = BAND_COLORS[i];
      ctx.fillRect(xl, yt, xr - xl, yb - yt);
    });
    ctx.restore();
  }
};

function head(ctx, x, yTip, dir, half, len) {
  ctx.beginPath();
  ctx.moveTo(x, yTip);
  ctx.lineTo(x - half, yTip + dir * len);
  ctx.lineTo(x + half, yTip + dir * len);
  ctx.closePath();
  ctx.fill();
}
const diagram = {
  id: 'diagram',
  afterDatasetsDraw(chart) {
    const {ctx, scales: {x, y}} = chart;
    ctx.save();
    ctx.strokeStyle = '#111';
    ctx.fillStyle = '#111';
    // double-headed splitting arrows
    arrowX.forEach((ax, i) => {
      const px = x.getPixelForValue(ax);
      const y1 = y.getPixelForValue(arrowFrom[i]), y2 = y.getPixelForValue(arrowTo[i]);
      ctx.lineWidth = 1.2;
      ctx.beginPath();
      ctx.moveTo(px, y1 + 5); ctx.lineTo(px, y2 - 5);
      ctx.stroke();
      head(ctx, px, y1, 1, 3.5, 8);
      head(ctx, px, y2, -1, 3.5, 8);
    });
    // energy axis
    const ex = x.getPixelForValue(energyAxis.x);
    const eTop = y.getPixelForValue(energyAxis.to), eBot = y.getPixelForValue(energyAxis.from);
    ctx.lineWidth = 2.5;
    ctx.beginPath();
    ctx.moveTo(ex, eBot); ctx.lineTo(ex, eTop + 6);
    ctx.stroke();
    head(ctx, ex, eTop, 1, 4.5, 10);
    ctx.save();
    ctx.translate(x.getPixelForValue(-0.703), y.getPixelForValue(2.4));
    ctx.rotate(-Math.PI / 2);
    ctx.font = 'bold 21px ' + FONT;
    ctx.textAlign = 'center';
    ctx.textBaseline = 'middle';
    ctx.fillText('Energy', 0, 0);
    ctx.restore();
    cNotes.forEach(n => drawRuns(ctx, n.runs, x.getPixelForValue(n.x), y.getPixelForValue(n.y), 'center'));
    ctx.restore();
  }
};

new Chart(document.getElementById('c'), {
  type: 'scatter',
  data: {datasets: levelSets.concat(linkSets, guideSets)},
  options: Object.assign({}, base, {
    layout: {padding: 0},
    plugins: quiet,
    scales: {
      x: {type: 'linear', display: false, min: -0.8108, max: 4.2523},
      y: {type: 'linear', display: false, min: -13.3, max: 19.7}
    }
  }),
  plugins: [bands, diagram]
});
</script>
</body>
</html>
